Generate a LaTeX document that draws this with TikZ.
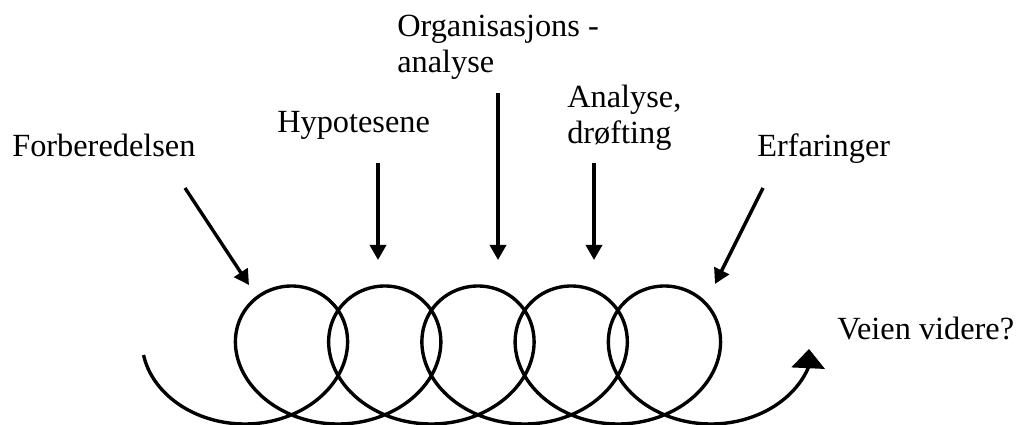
\documentclass[tikz,border=0pt]{standalone}
\usepackage{fontspec}
\setmainfont{Liberation Serif}
\usetikzlibrary{arrows.meta}
\begin{document}
\begin{tikzpicture}[x=0.025cm, y=-0.025cm,
  labeltext/.style={anchor=base west, inner sep=0pt, align=left,
    font=\fontsize{23}{26.2}\selectfont},
  pointer/.style={line width=2.4pt, -{Triangle[width=0.4cm,length=0.375cm]}},
  coil/.style={line width=2.4pt},
  endtip/.style={-{Triangle[width=0.82cm,length=0.48cm]}}
]
\useasboundingbox (0,0) rectangle (1021,425);

% phase labels (multi-line labels are placed by their last baseline)
\node[labeltext] (forb) at (12,157) {Forberedelsen};
\node[labeltext] (hyp)  at (277,133) {Hypotesene};
\node[labeltext] (org)  at (397,73) {Organisasjons -\\analyse};
\node[labeltext] (ana)  at (567,144) {Analyse,\\drøfting};
\node[labeltext] (erf)  at (757,157) {Erfaringer};
\node[labeltext] (vei)  at (837,340) {Veien videre?};

% arrow end points
\coordinate (p1s) at (185,188); \coordinate (p1e) at (249,285);
\coordinate (p2s) at (378,163); \coordinate (p2e) at (378,260);
\coordinate (p3s) at (498,93);  \coordinate (p3e) at (498,260);
\coordinate (p4s) at (594,163); \coordinate (p4e) at (594,260);
\coordinate (p5s) at (763,188); \coordinate (p5e) at (715,284);

\draw[pointer] (p1s) -- (p1e);
\draw[pointer] (p2s) -- (p2e);
\draw[pointer] (p3s) -- (p3e);
\draw[pointer] (p4s) -- (p4e);
\draw[pointer] (p5s) -- (p5e);

% the coil: a prolate trochoid with five loops
\coordinate (coiltip) at (809,349);
\draw[coil, endtip]
  plot[variable=\t, domain=-4.712:29.655, samples=700]
    ({291.5 + 14.84*\t - 78*sin(\t r)}, {355 - 69*cos(\t r)})
  -- (coiltip);
\end{tikzpicture}
\end{document}
